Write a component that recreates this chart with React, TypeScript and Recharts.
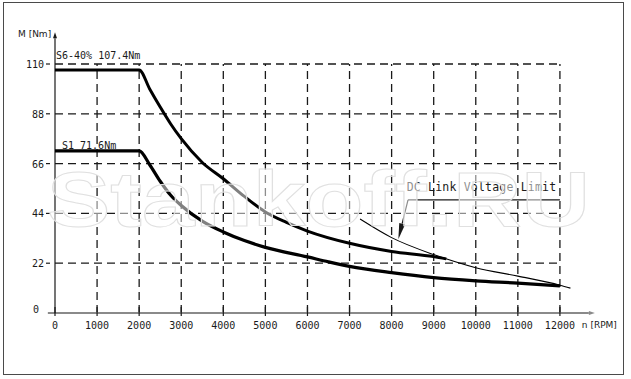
import { Line, LineChart, ReferenceDot, ReferenceLine, XAxis, YAxis } from "recharts"

const xTicks = [0, 1000, 2000, 3000, 4000, 5000, 6000, 7000, 8000, 9000, 10000, 11000, 12000]
const yTicks = [0, 22, 44, 66, 88, 110]

// S6-40% curve
const s6Rpm = [0, 2000, 2250, 2500, 2750, 3000, 3500, 4000, 4500, 5000, 5500, 6000, 7000, 8000, 9000, 9300]
const s6Torque = [107.4, 107.4, 99, 91, 83.5, 77, 66.5, 59.3, 51.5, 44.6, 40, 36.2, 30.8, 27.2, 24.9, 23.9]

// S1 curve
const s1Rpm = [0, 2000, 2250, 2500, 2750, 3000, 3500, 4000, 4500, 5000, 6000, 6500, 7000, 8000, 9000, 10000, 11000, 12000]
const s1Torque = [71.6, 71.6, 65.5, 58.2, 52, 47.5, 40.6, 35.8, 32, 29, 24.8, 22.6, 20.6, 17.8, 15.6, 14.2, 13.2, 12.0]

// DC link voltage limit
const dcRpm = [7250, 8000, 9000, 10000, 11000, 12000, 12250]
const dcTorque = [41.5, 33.3, 25.8, 20.0, 16.3, 12.3, 11.0]

const s6Label = "S6-40% 107.4Nm"
const s1Label = "S1 71.6Nm"
const dcLabel = "DC Link Voltage Limit"
const yLabel = "M [Nm]"
const xLabel = "n [RPM]"
const watermark = "Stankoff.RU"

const toPoints = (rpm: number[], torque: number[]) => rpm.map((r, i) => ({ rpm: r, torque: torque[i] }))

const s6Data = toPoints(s6Rpm, s6Torque)
const s1Data = toPoints(s1Rpm, s1Torque)
const dcData = toPoints(dcRpm, dcTorque)

const mono = "'DejaVu Sans Mono', monospace"
const sans = "'DejaVu Sans', sans-serif"
const ink = "#1a1a1a"

const XTick = (props: any) => {
  const { x, y, payload } = props
  return (
    <g>
      <line x1={x} x2={x} y1={y - 6} y2={y + 3} stroke={ink} strokeWidth={1.2} />
      <text x={x} y={y + 16} textAnchor="middle" fontFamily={mono} fontSize={10} fill={ink}>
        {payload.value}
      </text>
    </g>
  )
}

const YTick = (props: any) => {
  const { x, y, payload } = props
  if (payload.value === 0) {
    return (
      <text x={x - 16} y={y} textAnchor="end" fontFamily={mono} fontSize={10} fill={ink}>
        {payload.value}
      </text>
    )
  }
  return (
    <g>
      <line x1={x - 9} x2={x - 5} y1={y} y2={y} stroke={ink} strokeWidth={1.2} />
      <text x={x - 11} y={y + 4} textAnchor="end" fontFamily={mono} fontSize={10} fill={ink}>
        {payload.value}
      </text>
    </g>
  )
}

const arrowShape = (len: number, half: number) => (props: any) => {
  const { x1, y1, x2, y2 } = props
  const dx = x2 - x1
  const dy = y2 - y1
  const d = Math.hypot(dx, dy) || 1
  const ux = dx / d
  const uy = dy / d
  const bx = x2 - ux * len
  const by = y2 - uy * len
  const pts = `${x2},${y2} ${bx - uy * half},${by + ux * half} ${bx + uy * half},${by - ux * half}`
  return (
    <g>
      <line x1={x1} y1={y1} x2={bx} y2={by} stroke={props.stroke} strokeWidth={props.strokeWidth} />
      <polygon points={pts} fill={props.stroke} />
    </g>
  )
}

const textAt = (label: string, dx: number, dy: number, font: string, size: number, spacing = 0) => (props: any) => (
  <text
    x={props.cx + dx}
    y={props.cy + dy}
    fontFamily={font}
    fontSize={size}
    letterSpacing={spacing}
    fill={ink}
  >
    {label}
  </text>
)

export default function App() {
  return (
    <div style={{ position: "absolute", left: 0, top: 0, width: 631, height: 379, background: "#fff" }}>
      <div
        style={{
          position: "absolute",
          left: 3,
          top: 2,
          width: 621,
          height: 373,
          border: "1.5px solid #4a4a4a",
          boxSizing: "border-box",
        }}
      />
      <LineChart width={631} height={379} margin={{ top: 64, right: 29, bottom: 36, left: 15 }}>
        <XAxis
          dataKey="rpm"
          type="number"
          domain={[0, 13000]}
          ticks={xTicks}
          interval={0}
          axisLine={false}
          tickLine={false}
          tickSize={0}
          tickMargin={0}
          height={30}
          tick={<XTick />}
        />
        <YAxis
          type="number"
          domain={[0, 110]}
          ticks={yTicks}
          interval={0}
          axisLine={false}
          tickLine={false}
          tickSize={0}
          tickMargin={0}
          width={40}
          tick={<YTick />}
        />

        {xTicks.slice(1).map((t) => (
          <ReferenceLine
            key={`vx${t}`}
            segment={[{ x: t, y: 0 }, { x: t, y: 110 }]}
            ifOverflow="visible"
            stroke={ink}
            strokeWidth={1.3}
            strokeDasharray="8 5"
          />
        ))}
        {yTicks.slice(1).map((t) => (
          <ReferenceLine
            key={`hy${t}`}
            segment={[{ x: 0, y: t }, { x: 12000, y: t }]}
            ifOverflow="visible"
            stroke={ink}
            strokeWidth={1.3}
            strokeDasharray="8 5"
          />
        ))}

        <ReferenceLine
          segment={[{ x: -170, y: 0 }, { x: 12830, y: 0 }]}
          ifOverflow="visible"
          stroke="#8a8a8a"
          strokeWidth={2}
          shape={arrowShape(6, 2)}
        />
        <ReferenceLine
          segment={[{ x: 0, y: 0 }, { x: 0, y: 124 }]}
          ifOverflow="visible"
          stroke={ink}
          strokeWidth={1.2}
          shape={arrowShape(6, 2)}
        />

        <Line
          data={s6Data}
          dataKey="torque"
          name="S6-40%"
          type="monotone"
          stroke="#000"
          strokeWidth={3}
          dot={false}
          activeDot={false}
          isAnimationActive={false}
        />
        <Line
          data={s1Data}
          dataKey="torque"
          name="S1"
          type="monotone"
          stroke="#000"
          strokeWidth={3.2}
          dot={false}
          activeDot={false}
          isAnimationActive={false}
        />
        <Line
          data={dcData}
          dataKey="torque"
          name="DC Link"
          type="monotone"
          stroke="#000"
          strokeWidth={1.1}
          dot={false}
          activeDot={false}
          isAnimationActive={false}
        />

        {/* leader for DC link annotation */}
        <ReferenceLine
          segment={[{ x: 8390, y: 50 }, { x: 12000, y: 50 }]}
          ifOverflow="visible"
          stroke={ink}
          strokeWidth={1.2}
        />
        <ReferenceLine
          segment={[{ x: 8390, y: 50 }, { x: 8160, y: 32.6 }]}
          ifOverflow="visible"
          stroke={ink}
          strokeWidth={1.2}
          shape={arrowShape(16, 3)}
        />

        <ReferenceDot x={0} y={107.4} r={0} ifOverflow="visible" shape={textAt(s6Label, 1, -11, mono, 10)} />
        <ReferenceDot x={0} y={71.6} r={0} ifOverflow="visible" shape={textAt(s1Label, 7, -2, mono, 10)} />
        <ReferenceDot x={8360} y={50} r={0} ifOverflow="visible" shape={textAt(dcLabel, 0, -9, mono, 11.5, 0.2)} />
        <ReferenceDot x={0} y={124} r={0} ifOverflow="visible" shape={textAt(yLabel, -37, 5, sans, 9)} />
        <ReferenceDot x={12830} y={0} r={0} ifOverflow="visible" shape={textAt(xLabel, -13, 15, sans, 9)} />
      </LineChart>
      <svg
        width={631}
        height={379}
        style={{ position: "absolute", left: 0, top: 0, pointerEvents: "none" }}
      >
        <text
          x={47}
          y={226}
          textLength={543}
          lengthAdjust="spacingAndGlyphs"
          fontFamily="'Liberation Sans', Arial, sans-serif"
          fontWeight="bold"
          fontSize={78}
          fill="#fff"
          fillOpacity={0.5}
          stroke="#e0e0e0"
          strokeWidth={1}
        >
          {watermark}
        </text>
      </svg>
    </div>
  )
}
